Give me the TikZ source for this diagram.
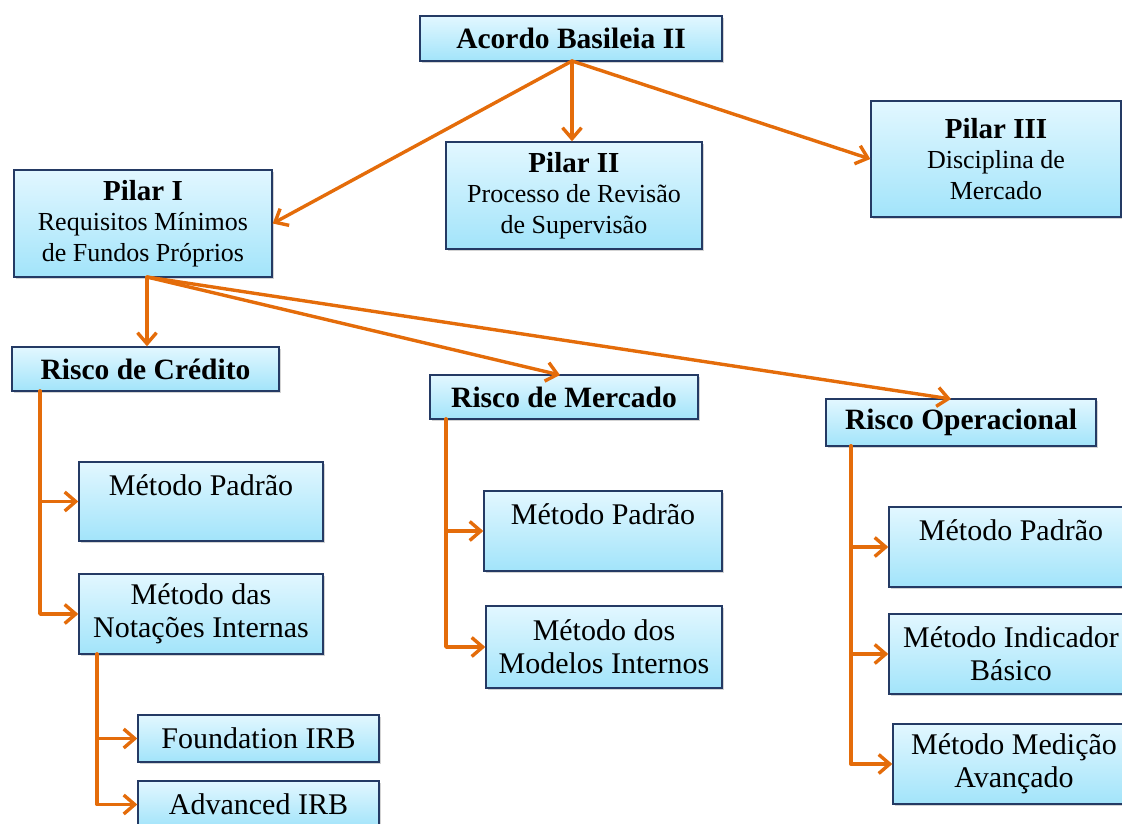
\documentclass[tikz,border=0pt]{standalone}
\usepackage{fontspec}
\setmainfont{Liberation Serif}
\usetikzlibrary{arrows.meta,shadows}
\definecolor{arrorange}{RGB}{228,108,10}
\definecolor{boxnavy}{RGB}{36,58,100}
\definecolor{boxtop}{RGB}{226,247,255}
\definecolor{boxbot}{RGB}{162,228,250}
\tikzset{
  box/.style={draw=boxnavy, line width=1.4pt, top color=boxtop, bottom color=boxbot,
    drop shadow={opacity=0.35, shadow xshift=2pt, shadow yshift=-2pt},
    align=center, inner sep=0pt, text=black},
  mtext/.style={font=\fontsize{30}{33}\selectfont},
  ptext/.style={font=\fontsize{26}{30.5}\selectfont},
  ttext/.style={font=\fontsize{29.5}{32}\selectfont\bfseries},
  arr/.style={draw=arrorange, line width=3.4pt, line cap=round, line join=round,
    -{Straight Barb[length=11pt,width=19pt]}}
}
\begin{document}
\begin{tikzpicture}[x=1pt,y=-1pt]
\useasboundingbox (0,0) rectangle (1122,823);
\clip (0,0) rectangle (1122,823);

% top level
\node[box, ttext, minimum width=302pt, minimum height=45pt] (top) at (571,38.5) {Acordo Basileia II};
\node[box, ptext, minimum width=258pt, minimum height=107pt] (p1) at (143,223.5)
  {{\fontsize{29}{30}\selectfont\bfseries Pilar I}\\Requisitos Mínimos\\de Fundos Próprios};
\node[box, ptext, minimum width=256pt, minimum height=107pt] (p2) at (574,195.5)
  {{\fontsize{29}{30}\selectfont\bfseries Pilar II}\\Processo de Revisão\\de Supervisão};
\node[box, ptext, minimum width=250pt, minimum height=116pt] (p3) at (996,159)
  {{\fontsize{29}{30}\selectfont\bfseries Pilar III}\\Disciplina de\\Mercado};

% risk boxes
\node[box, ttext, minimum width=267pt, minimum height=44pt] (rc) at (145.5,369) {Risco de Crédito};
\node[box, ttext, minimum width=268pt, minimum height=44pt] (rm) at (564,397) {Risco de Mercado};
\node[box, ttext, minimum width=270pt, minimum height=47pt] (ro) at (961,422.5) {Risco Operacional};

% credit methods
\node[box, mtext, minimum width=244pt, minimum height=79pt] (cp1) at (201,501.5) {Método Padrão\\\mbox{}};
\node[box, mtext, minimum width=244pt, minimum height=80pt] (cp2) at (201,614) {Método das\\Notações Internas};
\node[box, mtext, minimum width=241pt, minimum height=47pt] (fi) at (258.5,738.5) {Foundation IRB};
\node[box, mtext, minimum width=241pt, minimum height=47pt] (ai) at (258.5,804.5) {Advanced IRB};

% market methods
\node[box, mtext, minimum width=238pt, minimum height=80pt] (mp1) at (603,531) {Método Padrão\\\mbox{}};
\node[box, mtext, minimum width=236pt, minimum height=82pt] (mp2) at (604,647) {Método dos\\Modelos Internos};

% operational methods
\node[box, mtext, minimum width=244pt, minimum height=80pt] (op1) at (1011,547) {Método Padrão\\\mbox{}};
\node[box, mtext, minimum width=244pt, minimum height=80pt] (op2) at (1011,654) {Método Indicador\\Básico};
\node[box, mtext, minimum width=242pt, minimum height=80pt] (op3) at (1014,764) {Método Medição\\Avançado};

% connectors from top
\coordinate (topS) at (572,61);
\draw[arr] (topS) -- (p1.east);
\draw[arr] (topS) -- (topS |- p2.north);
\draw[arr] (topS) -- (p3.west);

% connectors from Pilar I
\coordinate (p1s) at (147,277);
\coordinate (rmN) at (560,375);
\coordinate (roN) at (951,399);
\draw[arr] (p1s) -- (p1s |- rc.north);
\draw[arr] (p1s) -- (rmN);
\draw[arr] (p1s) -- (roN);

% credit tree
\coordinate (rcA) at (40,391);
\draw[arr] (rcA) |- (cp1.west);
\draw[arr] (rcA) |- (cp2.west);
\coordinate (cpA) at (97,654);
\draw[arr] (cpA) |- (fi.west);
\draw[arr] (cpA) |- (ai.west);

% market tree
\coordinate (rmA) at (446,419);
\draw[arr] (rmA) |- (mp1.west);
\draw[arr] (rmA) |- (mp2.west);

% operational tree
\coordinate (roA) at (851,446);
\draw[arr] (roA) |- (op1.west);
\draw[arr] (roA) |- (op2.west);
\draw[arr] (roA) |- (op3.west);
\end{tikzpicture}
\end{document}
